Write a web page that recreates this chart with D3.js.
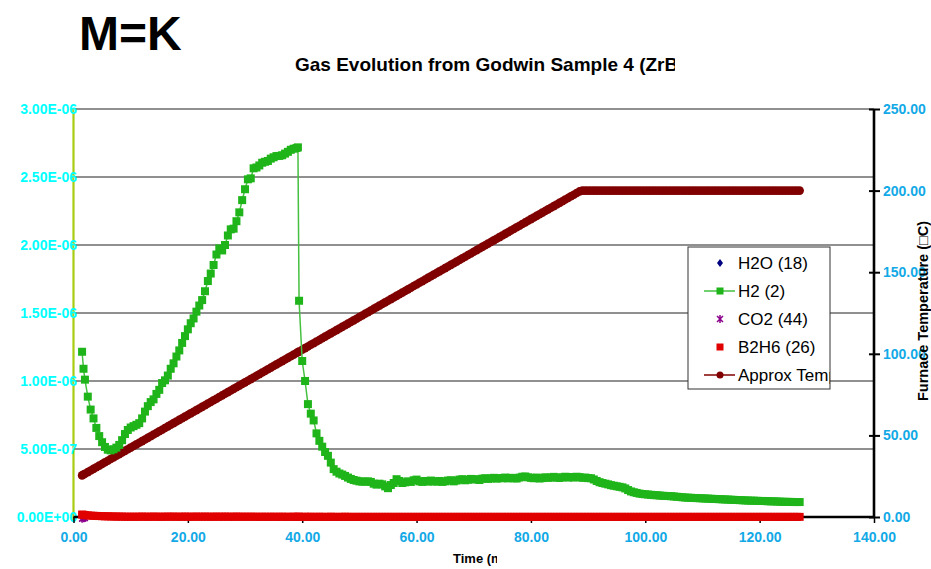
<!DOCTYPE html>
<html>
<head>
<meta charset="utf-8">
<script src="https://cdn.jsdelivr.net/npm/d3@7"></script>
<style>
  body { margin: 0; background: #ffffff; }
  svg { display: block; font-family: "Liberation Sans", Arial, sans-serif; }
</style>
</head>
<body>
<svg id="chart" width="931" height="569"></svg>
<script>
// Sample times (min)
const minutes = [
  1.5, 1.75, 2, 2.5, 3, 3.5, 4, 4.5, 5, 5.5, 6, 6.5, 7, 7.5, 8, 8.5, 9, 9.5, 10, 10.5,
  11, 11.5, 12, 12.5, 13, 13.5, 14, 14.5, 15, 15.5, 16, 16.5, 17, 17.5, 18, 18.5, 19, 19.5, 20, 20.5,
  21, 21.5, 22, 22.5, 23, 23.5, 24, 24.5, 25, 25.5, 26, 26.5, 27, 27.5, 28, 28.5, 29, 29.5, 30, 30.5,
  31, 31.5, 32, 32.5, 33, 33.5, 34, 34.5, 35, 35.5, 36, 36.5, 37, 37.5, 38, 38.5, 39, 39.25, 39.45, 40, 40.5,
  41, 41.5, 42, 42.5, 43, 43.5, 44, 44.5, 45, 45.5, 46, 46.5, 47, 47.5, 48, 48.5, 49, 49.5, 50, 50.5,
  51, 51.5, 52, 52.5, 53, 53.5, 54, 54.5, 55, 55.5, 56, 56.5, 57, 57.5, 58, 58.5, 59, 59.5, 60, 60.5,
  61, 61.5, 62, 62.5, 63, 63.5, 64, 64.5, 65, 65.5, 66, 66.5, 67, 67.5, 68, 68.5, 69, 69.5, 70, 70.5,
  71, 71.5, 72, 72.5, 73, 73.5, 74, 74.5, 75, 75.5, 76, 76.5, 77, 77.5, 78, 78.5, 79, 79.5, 80, 80.5,
  81, 81.5, 82, 82.5, 83, 83.5, 84, 84.5, 85, 85.5, 86, 86.5, 87, 87.5, 88, 88.5, 89, 89.5, 90, 90.5,
  91, 91.5, 92, 92.5, 93, 93.5, 94, 94.5, 95, 95.5, 96, 96.5, 97, 97.5, 98, 98.5, 99, 99.5, 100, 100.5,
  101, 101.5, 102, 102.5, 103, 103.5, 104, 104.5, 105, 105.5, 106, 106.5, 107, 107.5, 108, 108.5, 109, 109.5, 110, 110.5,
  111, 111.5, 112, 112.5, 113, 113.5, 114, 114.5, 115, 115.5, 116, 116.5, 117, 117.5, 118, 118.5, 119, 119.5, 120, 120.5,
  121, 121.5, 122, 122.5, 123, 123.5, 124, 124.5, 125, 125.5, 126, 126.5, 127
];

// H2 (m/z 2) signal, in units of 1E-06
const h2 = [
  1.215, 1.09, 1.01, 0.885, 0.79, 0.725, 0.655, 0.595, 0.55, 0.515, 0.495, 0.49, 0.498, 0.51, 0.53, 0.565, 0.61, 0.64, 0.658, 0.668,
  0.678, 0.69, 0.725, 0.775, 0.815, 0.845, 0.865, 0.905, 0.935, 0.985, 1.005, 1.04, 1.09, 1.13, 1.18, 1.225, 1.28, 1.33, 1.38, 1.425,
  1.46, 1.51, 1.555, 1.595, 1.66, 1.735, 1.79, 1.853, 1.93, 1.975, 1.96, 2.0, 2.07, 2.115, 2.12, 2.175, 2.24, 2.33, 2.41, 2.483,
  2.49, 2.564, 2.57, 2.585, 2.605, 2.612, 2.618, 2.635, 2.645, 2.654, 2.655, 2.66, 2.672, 2.685, 2.7, 2.708, 2.713, 2.718, 1.59, 1.147, 1.0,
  0.83, 0.76, 0.71, 0.615, 0.56, 0.517, 0.478, 0.45, 0.4, 0.352, 0.333, 0.32, 0.312, 0.302, 0.29, 0.28, 0.272, 0.267, 0.262, 0.26,
  0.26, 0.262, 0.258, 0.245, 0.238, 0.245, 0.24, 0.225, 0.212, 0.235, 0.25, 0.278, 0.265, 0.25, 0.255, 0.262, 0.258, 0.27, 0.275, 0.262,
  0.258, 0.265, 0.26, 0.268, 0.262, 0.26, 0.265, 0.258, 0.262, 0.268, 0.27, 0.262, 0.268, 0.275, 0.278, 0.27, 0.274, 0.28, 0.276, 0.278,
  0.272, 0.282, 0.285, 0.28, 0.284, 0.288, 0.282, 0.286, 0.285, 0.29, 0.284, 0.288, 0.285, 0.283, 0.29, 0.296, 0.298, 0.292, 0.288, 0.285,
  0.29, 0.283, 0.286, 0.292, 0.288, 0.29, 0.295, 0.29, 0.287, 0.292, 0.296, 0.29, 0.294, 0.29, 0.296, 0.293, 0.288, 0.29, 0.286, 0.285,
  0.276, 0.265, 0.256, 0.25, 0.245, 0.24, 0.234, 0.23, 0.226, 0.222, 0.218, 0.21, 0.198, 0.188, 0.182, 0.177, 0.172, 0.169, 0.167, 0.165,
  0.163, 0.161, 0.16, 0.158, 0.156, 0.155, 0.154, 0.153, 0.151, 0.149, 0.147, 0.145, 0.143, 0.142, 0.141, 0.14, 0.139, 0.138, 0.137, 0.136,
  0.135, 0.134, 0.133, 0.132, 0.131, 0.13, 0.129, 0.128, 0.127, 0.126, 0.125, 0.124, 0.123, 0.122, 0.121, 0.12, 0.12, 0.119, 0.118, 0.118,
  0.117, 0.116, 0.115, 0.115, 0.114, 0.113, 0.112, 0.112, 0.111, 0.111, 0.11, 0.11, 0.11
];

// B2H6 (m/z 26) signal, in units of 1E-06
const b2h6 = [
  0.018, 0.016, 0.014, 0.012, 0.01, 0.009, 0.008, 0.007, 0.006, 0.005, 0.005, 0.004, 0.004, 0.003, 0.003, 0.003, 0.002, 0.002, 0.002, 0.002,
  0.002, 0.002, 0.003, 0.002, 0.002, 0.002, 0.003, 0.002, 0.002, 0.002, 0.002, 0.003, 0.002, 0.003, 0.002, 0.002, 0.002, 0.003, 0.002, 0.002,
  0.002, 0.003, 0.002, 0.002, 0.003, 0.002, 0.002, 0.002, 0.003, 0.002, 0.002, 0.003, 0.002, 0.002, 0.002, 0.003, 0.002, 0.002, 0.002, 0.002,
  0.002, 0.002, 0.002, 0.001, 0.002, 0.002, 0.001, 0.002, 0.002, 0.001, 0.002, 0.002, 0.001, 0.002, 0.001, 0.002, 0.002, 0.001, 0.002, 0.001, 0.002,
  0.001, 0.002, 0.001, 0.001, 0.002, 0.001, 0.001, 0.001, 0.002, 0.001, 0.001, 0.001, 0.001, 0.002, 0.001, 0.001, 0.001, 0.001, 0.001, 0.001,
  0.001, 0.001, 0.001, 0.001, 0.001, 0.001, 0.001, 0.001, 0.001, 0.001, 0.001, 0.001, 0.001, 0.001, 0.001, 0.001, 0.001, 0.001, 0.001, 0.001,
  0.001, 0.001, 0.001, 0.001, 0.001, 0.001, 0.001, 0.001, 0.001, 0.001, 0.001, 0.001, 0.001, 0.001, 0.001, 0.001, 0.001, 0.001, 0.001, 0.001,
  0.001, 0.001, 0.001, 0.001, 0.001, 0.001, 0.001, 0.001, 0.001, 0.001, 0.001, 0.001, 0.001, 0.001, 0.001, 0.001, 0.001, 0.001, 0.001, 0.001,
  0.001, 0.001, 0.001, 0.001, 0.001, 0.001, 0.001, 0.001, 0.001, 0.001, 0.001, 0.001, 0.001, 0.001, 0.001, 0.001, 0.001, 0.001, 0.001, 0.001,
  0.001, 0.001, 0.001, 0.001, 0.001, 0.001, 0.001, 0.001, 0.001, 0.001, 0.001, 0.001, 0.001, 0.001, 0.001, 0.001, 0.001, 0.001, 0.001, 0.001,
  0.001, 0.001, 0.001, 0.001, 0.001, 0.001, 0.001, 0.001, 0.001, 0.001, 0.001, 0.001, 0.001, 0.001, 0.001, 0.001, 0.001, 0.001, 0.001, 0.001,
  0.001, 0.001, 0.001, 0.001, 0.001, 0.001, 0.001, 0.001, 0.001, 0.001, 0.001, 0.001, 0.001, 0.001, 0.001, 0.001, 0.001, 0.001, 0.001, 0.001,
  0.001, 0.001, 0.001, 0.001, 0.001, 0.001, 0.001, 0.001, 0.001, 0.001, 0.001, 0.001, 0.001
];

// H2O (m/z 18) and CO2 (m/z 44): first samples only, in units of 1E-06
const h2o = [0.002, 0.001, 0.0];
const co2 = [-0.012, -0.01, -0.008];

// Approximate furnace temperature (°C), secondary axis
const furnaceTemp = [
  25.5, 26, 26.5, 27.5, 28.5, 29.5, 30.5, 31.5, 32.5, 33.5, 34.5, 35.5, 36.5, 37.5, 38.5, 39.5, 40.5, 41.5, 42.5, 43.5,
  44.5, 45.5, 46.5, 47.5, 48.5, 49.5, 50.5, 51.5, 52.5, 53.5, 54.5, 55.5, 56.5, 57.5, 58.5, 59.5, 60.5, 61.5, 62.5, 63.5,
  64.5, 65.5, 66.5, 67.5, 68.5, 69.5, 70.5, 71.5, 72.5, 73.5, 74.5, 75.5, 76.5, 77.5, 78.5, 79.5, 80.5, 81.5, 82.5, 83.5,
  84.5, 85.5, 86.5, 87.5, 88.5, 89.5, 90.5, 91.5, 92.5, 93.5, 94.5, 95.5, 96.5, 97.5, 98.5, 99.5, 100.5, 101, 101.4, 102.5, 103.5,
  104.5, 105.5, 106.5, 107.5, 108.5, 109.5, 110.5, 111.5, 112.5, 113.5, 114.5, 115.5, 116.5, 117.5, 118.5, 119.5, 120.5, 121.5, 122.5, 123.5,
  124.5, 125.5, 126.5, 127.5, 128.5, 129.5, 130.5, 131.5, 132.5, 133.5, 134.5, 135.5, 136.5, 137.5, 138.5, 139.5, 140.5, 141.5, 142.5, 143.5,
  144.5, 145.5, 146.5, 147.5, 148.5, 149.5, 150.5, 151.5, 152.5, 153.5, 154.5, 155.5, 156.5, 157.5, 158.5, 159.5, 160.5, 161.5, 162.5, 163.5,
  164.5, 165.5, 166.5, 167.5, 168.5, 169.5, 170.5, 171.5, 172.5, 173.5, 174.5, 175.5, 176.5, 177.5, 178.5, 179.5, 180.5, 181.5, 182.5, 183.5,
  184.5, 185.5, 186.5, 187.5, 188.5, 189.5, 190.5, 191.5, 192.5, 193.5, 194.5, 195.5, 196.5, 197.5, 198.5, 199.5, 200, 200, 200, 200,
  200, 200, 200, 200, 200, 200, 200, 200, 200, 200, 200, 200, 200, 200, 200, 200, 200, 200, 200, 200,
  200, 200, 200, 200, 200, 200, 200, 200, 200, 200, 200, 200, 200, 200, 200, 200, 200, 200, 200, 200,
  200, 200, 200, 200, 200, 200, 200, 200, 200, 200, 200, 200, 200, 200, 200, 200, 200, 200, 200, 200,
  200, 200, 200, 200, 200, 200, 200, 200, 200, 200, 200, 200, 200
];

const timeTicks = [0, 20, 40, 60, 80, 100, 120, 140];
const signalTicks = [0, 0.5, 1, 1.5, 2, 2.5, 3];      // ×1E-06
const tempTicks = [0, 50, 100, 150, 200, 250];
const legendLabels = ["H2O (18)", "H2 (2)", "CO2 (44)", "B2H6 (26)", "Approx Temp"];

const UNIT = 1e-6;
const COL = {
  h2o: "#000080", h2: "#1fb51a", h2Line: "#45c040", co2: "#8b008b",
  b2h6: "#e00000", temp: "#800000", leftTick: "#00ffff", blueTick: "#12a9e6",
  leftAxis: "#a8cc10", grid: "#222222"
};

const svg = d3.select("#chart");
const X0 = 73.5, X1 = 874, Y0 = 517, Y1 = 109;

const x = d3.scaleLinear().domain([0, 140]).range([X0, X1]);
const ySig = d3.scaleLinear().domain([0, 3 * UNIT]).range([Y0, Y1]);
const yTemp = d3.scaleLinear().domain([0, 250]).range([Y0, Y1]);

// Scientific labels in the "3.00E-06" style
function sci(v) {
  if (v === 0) return "0.00E+00";
  const e = Math.floor(Math.log10(v) + 1e-9);
  const m = v / Math.pow(10, e);
  return m.toFixed(2) + "E" + (e < 0 ? "-" : "+") + String(Math.abs(e)).padStart(2, "0");
}

const defs = svg.append("defs");
defs.append("clipPath").attr("id", "clipTitle").append("rect").attr("x", 0).attr("y", 0).attr("width", 675).attr("height", 100);
defs.append("clipPath").attr("id", "clipXTitle").append("rect").attr("x", 0).attr("y", 540).attr("width", 497).attr("height", 29);

// Headings
svg.append("text").attr("x", 79).attr("y", 50)
  .attr("font-size", 48).attr("font-weight", "bold").attr("fill", "#000").text("M=K");
svg.append("text").attr("clip-path", "url(#clipTitle)").attr("x", 295).attr("y", 71)
  .attr("font-size", 19).attr("font-weight", "bold").attr("fill", "#000")
  .text("Gas Evolution from Godwin Sample 4 (ZrB2)");

// Horizontal gridlines
svg.append("g").selectAll("line").data(signalTicks.filter(d => d > 0)).join("line")
  .attr("x1", X0).attr("x2", X1)
  .attr("y1", d => ySig(d * UNIT)).attr("y2", d => ySig(d * UNIT))
  .attr("stroke", COL.grid).attr("stroke-width", 1.2);

// Left (signal) axis
const gL = svg.append("g").attr("transform", `translate(${X0},0)`)
  .call(d3.axisLeft(ySig).tickValues(signalTicks.map(d => d * UNIT)).tickFormat(sci).tickSize(0));
gL.select(".domain").attr("stroke", COL.leftAxis).attr("stroke-width", 2.2).attr("d", `M0,${Y1}V${Y0 + 3}`);
gL.selectAll("text").attr("x", 3.5).attr("fill", COL.leftTick)
  .attr("font-size", 14).attr("font-weight", "bold").attr("font-family", "Liberation Sans, Arial, sans-serif");

// Bottom (time) axis
const gB = svg.append("g").attr("transform", `translate(0,${Y0})`)
  .call(d3.axisBottom(x).tickValues(timeTicks).tickFormat(d3.format(".2f")).tickSize(6).tickPadding(9));
gB.select(".domain").attr("stroke", "#000").attr("stroke-width", 2.5).attr("d", `M${X0},0H${X1}`);
gB.selectAll(".tick line").attr("stroke", "#000").attr("stroke-width", 1.5);
gB.selectAll("text").attr("fill", COL.blueTick).attr("font-size", 14).attr("font-weight", "bold")
  .attr("font-family", "Liberation Sans, Arial, sans-serif");

// Right (temperature) axis
const gR = svg.append("g").attr("transform", `translate(${X1},0)`)
  .call(d3.axisRight(yTemp).tickValues(tempTicks).tickFormat(d3.format(".2f")).tickSize(6).tickPadding(3));
gR.select(".domain").attr("stroke", "#000").attr("stroke-width", 2.6).attr("d", `M0,${Y1}V${Y0 + 1}`);
gR.selectAll(".tick line").attr("x1", -5).attr("x2", 6).attr("stroke", "#000").attr("stroke-width", 2);
gR.selectAll("text").attr("fill", COL.blueTick).attr("font-size", 14).attr("font-weight", "bold")
  .attr("font-family", "Liberation Sans, Arial, sans-serif");

// Axis titles
svg.append("text").attr("clip-path", "url(#clipXTitle)").attr("x", 453).attr("y", 563)
  .attr("font-size", 13).attr("font-weight", "bold").attr("fill", "#000").text("Time (min)");
svg.append("text").attr("transform", "translate(927.5,311) rotate(-90)").attr("text-anchor", "middle")
  .attr("font-size", 14.5).attr("font-weight", "bold").attr("fill", "#000").text("Furnace Temperature (\u25A1C)");

// Series
const plot = svg.append("g");
const ptsSig = vals => vals.map((v, i) => [x(minutes[i]), ySig(v * UNIT)]);
const ptsTemp = vals => vals.map((v, i) => [x(minutes[i]), yTemp(v)]);

// Temperature ramp: line + circles
const tPts = ptsTemp(furnaceTemp);
plot.append("path").attr("d", d3.line()(tPts)).attr("fill", "none").attr("stroke", COL.temp).attr("stroke-width", 3);
plot.append("g").selectAll("circle").data(tPts).join("circle")
  .attr("cx", d => d[0]).attr("cy", d => d[1]).attr("r", 4.3).attr("fill", COL.temp);

// H2O diamonds
plot.append("g").selectAll("path").data(ptsSig(h2o)).join("path")
  .attr("transform", d => `translate(${d[0]},${d[1]})`)
  .attr("d", "M0,-4L3,0L0,4L-3,0Z").attr("fill", COL.h2o);

// CO2 stars
plot.append("g").selectAll("path").data(ptsSig(co2)).join("path")
  .attr("transform", d => `translate(${d[0]},${d[1]})`)
  .attr("d", "M-3,-3L3,3M-3,3L3,-3M0,-4V4").attr("stroke", COL.co2).attr("stroke-width", 1.5).attr("fill", "none");

// B2H6 squares
plot.append("g").selectAll("rect").data(ptsSig(b2h6)).join("rect")
  .attr("x", d => d[0] - 4).attr("y", d => d[1] - 4).attr("width", 8).attr("height", 8).attr("fill", COL.b2h6);

// H2: line + squares
const hPts = ptsSig(h2);
plot.append("path").attr("d", d3.line()(hPts)).attr("fill", "none").attr("stroke", COL.h2Line).attr("stroke-width", 1.5);
plot.append("g").selectAll("rect").data(hPts).join("rect")
  .attr("x", d => d[0] - 4).attr("y", d => d[1] - 4).attr("width", 8).attr("height", 8).attr("fill", COL.h2);

// Legend
const lg = svg.append("g");
lg.append("rect").attr("x", 688).attr("y", 247).attr("width", 142).attr("height", 142)
  .attr("fill", "#fff").attr("stroke", "#333").attr("stroke-width", 1);
const item = lg.selectAll("g.item").data(legendLabels).join("g").attr("class", "item")
  .attr("transform", (d, i) => `translate(0,${263 + i * 28})`);
item.each(function (d, i) {
  const id = "clipLeg" + i;
  defs.append("clipPath").attr("id", id).append("rect")
    .attr("x", 688).attr("y", -20).attr("width", 142).attr("height", 40);
  const g = d3.select(this);
  g.append("text").attr("clip-path", `url(#${id})`)
    .attr("x", 738).attr("y", 6).attr("font-size", 17).attr("fill", "#000").text(d);
  if (i === 0) g.append("path").attr("d", "M720,-4L723,0L720,4L717,0Z").attr("fill", COL.h2o);
  if (i === 1) {
    g.append("line").attr("x1", 704).attr("x2", 735).attr("stroke", COL.h2Line).attr("stroke-width", 1.5);
    g.append("rect").attr("x", 716.5).attr("y", -3.5).attr("width", 7).attr("height", 7).attr("fill", COL.h2);
  }
  if (i === 2) g.append("path").attr("d", "M717,-3L723,3M717,3L723,-3M720,-4V4")
    .attr("stroke", COL.co2).attr("stroke-width", 1.5).attr("fill", "none");
  if (i === 3) g.append("rect").attr("x", 716.5).attr("y", -3.5).attr("width", 7).attr("height", 7).attr("fill", COL.b2h6);
  if (i === 4) {
    g.append("line").attr("x1", 704).attr("x2", 735).attr("stroke", COL.temp).attr("stroke-width", 1.5);
    g.append("circle").attr("cx", 720).attr("cy", 0).attr("r", 3.5).attr("fill", COL.temp);
  }
});
</script>
</body>
</html>
